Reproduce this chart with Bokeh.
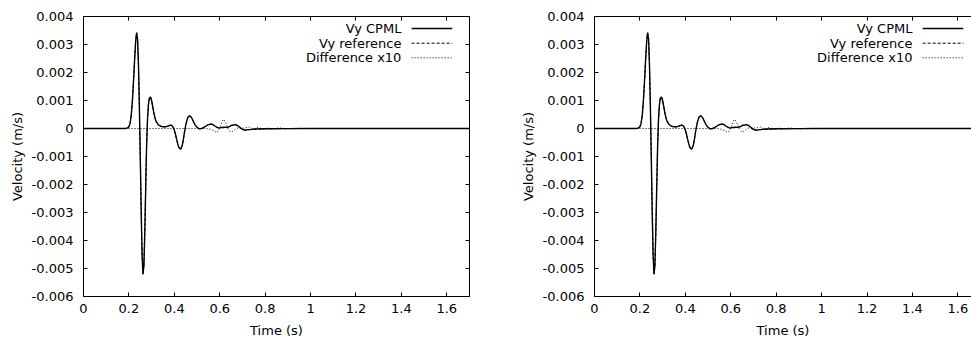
from bokeh.plotting import figure
from bokeh.models import Range1d, FixedTicker, LinearAxis, Label, Arrow
from bokeh.layouts import row
from bokeh.embed import file_html
from bokeh.resources import INLINE

# ---------------- data ----------------
t = [0.0, 0.10, 0.18, 0.19, 0.20, 0.205, 0.21, 0.215, 0.22, 0.225, 0.23, 0.234,
     0.238, 0.242, 0.246, 0.25, 0.254, 0.258, 0.262, 0.266, 0.27, 0.274, 0.278,
     0.282, 0.286, 0.29, 0.295, 0.30, 0.305, 0.31, 0.315, 0.32, 0.33, 0.34, 0.35,
     0.36, 0.37, 0.38, 0.385, 0.39, 0.395, 0.40, 0.405, 0.41, 0.415, 0.42, 0.428,
     0.435, 0.44, 0.445, 0.45, 0.455, 0.46, 0.467, 0.475, 0.48, 0.49, 0.50, 0.51,
     0.52, 0.53, 0.54, 0.55, 0.565, 0.58, 0.59, 0.60, 0.61, 0.62, 0.63, 0.64, 0.65,
     0.667, 0.68, 0.69, 0.70, 0.71, 0.72, 0.74, 0.76, 0.80, 0.90, 1.00, 1.20, 1.40, 1.70]

vy_cpml = [0.0, 0.0, 0.0, 0.000005, 0.00006, 0.00018, 0.00045, 0.00095, 0.00165,
           0.00245, 0.00315, 0.00342, 0.0032, 0.0023, 0.0008, -0.001, -0.0029,
           -0.0045, -0.0052, -0.0049, -0.0037, -0.0021, -0.0006, 0.00035, 0.00085,
           0.00108, 0.00113, 0.001, 0.00078, 0.00055, 0.00037, 0.00025, 0.00013,
           0.00008, 0.00006, 0.00006, 0.00008, 0.00011, 0.00012, 0.0001, 0.00004,
           -0.00006, -0.0002, -0.00038, -0.00055, -0.00068, -0.00074, -0.0006,
           -0.00038, -0.00012, 0.0001, 0.00028, 0.0004, 0.00046, 0.0004, 0.00032,
           0.00015, 0.00004, -0.00001, 0.0, 0.00004, 0.00009, 0.00014, 0.00016,
           0.00008, 0.00003, 0.00002, 0.00004, 0.00005, 0.00004, 0.00006, 0.0001,
           0.00014, 0.0001, 0.00003, -0.00003, -0.00006, -0.00005, -0.00003,
           -0.00002, -0.00001, -0.000005, 0.0, 0.0, 0.0, 0.0]

vy_ref = [0.0, 0.0, 0.0, 0.000005, 0.00006, 0.00018, 0.00045, 0.00095, 0.00165,
          0.00245, 0.00315, 0.00342, 0.0032, 0.0023, 0.0008, -0.001, -0.0029,
          -0.0045, -0.0052, -0.0049, -0.0037, -0.0021, -0.0006, 0.00035, 0.00085,
          0.00108, 0.00113, 0.001, 0.00078, 0.00055, 0.00037, 0.00025, 0.00013,
          0.00008, 0.00006, 0.00006, 0.00008, 0.00011, 0.00012, 0.0001, 0.00004,
          -0.00006, -0.0002, -0.00038, -0.00055, -0.00068, -0.00074, -0.0006,
          -0.00038, -0.00012, 0.0001, 0.00028, 0.0004, 0.00046, 0.0004, 0.00032,
          0.00015, 0.00004, -0.00001, 0.0, 0.00004, 0.00009, 0.00014, 0.00016,
          0.00009, 0.00004, 0.00001, 0.00003, 0.00002, 0.00003, 0.00006, 0.00011,
          0.00014, 0.0001, 0.00003, -0.00003, -0.00006, -0.00005, -0.00003,
          -0.00002, -0.00001, -0.000005, 0.0, 0.0, 0.0, 0.0]

t_diff = [0.0, 0.50, 0.54, 0.56, 0.575, 0.585, 0.595, 0.605, 0.615, 0.625, 0.635,
          0.645, 0.655, 0.665, 0.675, 0.69, 0.71, 0.73, 0.75, 0.77, 0.79, 0.81,
          0.83, 0.86, 0.90, 0.95, 1.00, 1.70]
diff_x10 = [0.0, 0.0, 0.0, -0.00003, -0.00008, -0.00014, -0.00008, 0.00012, 0.00032,
            0.00025, 0.00002, -0.0001, -0.00012, -0.00005, 0.00002, 0.0, 0.00002,
            0.00005, -0.00002, 0.00004, -0.00003, 0.00002, -0.00002, 0.00002,
            -0.00001, 0.00001, 0.0, 0.0]

x_ticks = [0, 0.2, 0.4, 0.6, 0.8, 1.0, 1.2, 1.4, 1.6]
x_tick_labels = ["0", "0.2", "0.4", "0.6", "0.8", "1", "1.2", "1.4", "1.6"]
y_ticks = [-0.006, -0.005, -0.004, -0.003, -0.002, -0.001, 0, 0.001, 0.002, 0.003, 0.004]
y_tick_labels = ["-0.006", "-0.005", "-0.004", "-0.003", "-0.002", "-0.001", "0",
                 "0.001", "0.002", "0.003", "0.004"]

series_names = ["Vy CPML", "Vy reference", "Difference x10"]

# ---------------- styling ----------------
FONT = "DejaVu Sans"
FS = "13px"
LEG_TEXT_X = 1.40
LEG_LINE_X0 = 1.445
LEG_LINE_X1 = 1.624
LEG_ROWS_Y = [0.003571, 0.003046, 0.002525]
STYLES = [dict(line_width=1.4, line_dash="solid"),
          dict(line_width=1.0, line_dash="3 2"),
          dict(line_width=1.0, line_dash="1 2")]


def style_axis(ax, ticks, labels):
    ax.ticker = FixedTicker(ticks=ticks)
    ax.major_tick_in = 4
    ax.major_tick_out = 0
    ax.minor_tick_in = 0
    ax.minor_tick_out = 0
    ax.axis_line_color = "black"
    ax.axis_line_width = 1
    ax.major_tick_line_color = "black"
    ax.major_label_overrides = dict(zip(ticks, labels))
    ax.major_label_text_font = FONT
    ax.major_label_text_font_size = FS
    ax.major_label_text_color = "black"
    ax.axis_label_text_font = FONT
    ax.axis_label_text_font_size = FS
    ax.axis_label_text_font_style = "normal"
    ax.axis_label_text_color = "black"


def mirror_axis(ticks):
    # axis with tick marks only (ticks given as minor ticks, so no labels)
    ax = LinearAxis(ticker=FixedTicker(ticks=[], minor_ticks=ticks))
    ax.minor_tick_in = 4
    ax.minor_tick_out = 0
    ax.major_tick_in = 0
    ax.major_tick_out = 0
    ax.minor_tick_line_color = "black"
    ax.axis_line_color = "black"
    ax.major_label_standoff = 0
    return ax


def make_plot(width, x_end, with_right_axis, border_right):
    p = figure(width=width, height=343, output_backend="svg", toolbar_location=None,
               x_range=Range1d(0, x_end), y_range=Range1d(-0.006, 0.004),
               x_axis_label="Time (s)", y_axis_label="Velocity (m/s)",
               min_border_left=83, min_border_right=border_right,
               min_border_top=16, min_border_bottom=47)
    p.outline_line_color = None
    p.grid.visible = False
    p.background_fill_color = "white"
    p.border_fill_color = "white"

    style_axis(p.xaxis[0], x_ticks, x_tick_labels)
    p.xaxis[0].major_label_standoff = 7
    p.xaxis[0].axis_label_standoff = 7
    style_axis(p.yaxis[0], y_ticks, y_tick_labels)
    p.yaxis[0].major_label_standoff = 10
    p.yaxis[0].axis_label_standoff = 4

    p.add_layout(mirror_axis(x_ticks), "above")
    if with_right_axis:
        p.add_layout(mirror_axis(y_ticks), "right")

    p.line(t, vy_cpml, color="black", **STYLES[0])
    p.line(t, vy_ref, color="black", **STYLES[1])
    p.line(t_diff, diff_x10, color="black", **STYLES[2])

    for name, yy, st in zip(series_names, LEG_ROWS_Y, STYLES):
        p.add_layout(Label(x=LEG_TEXT_X, y=yy, text=name, text_align="right",
                           text_baseline="middle", text_font=FONT,
                           text_font_size=FS, text_color="black"))
        p.add_layout(Arrow(end=None, x_start=LEG_LINE_X0, y_start=yy,
                           x_end=LEG_LINE_X1, y_end=yy, line_color="black", **st))
    return p


p1 = make_plot(511, 1.7, True, 42)
p2 = make_plot(460, 1.66, False, 0)
layout = row(p1, p2)

open("out.html", "w").write(file_html(layout, INLINE))
